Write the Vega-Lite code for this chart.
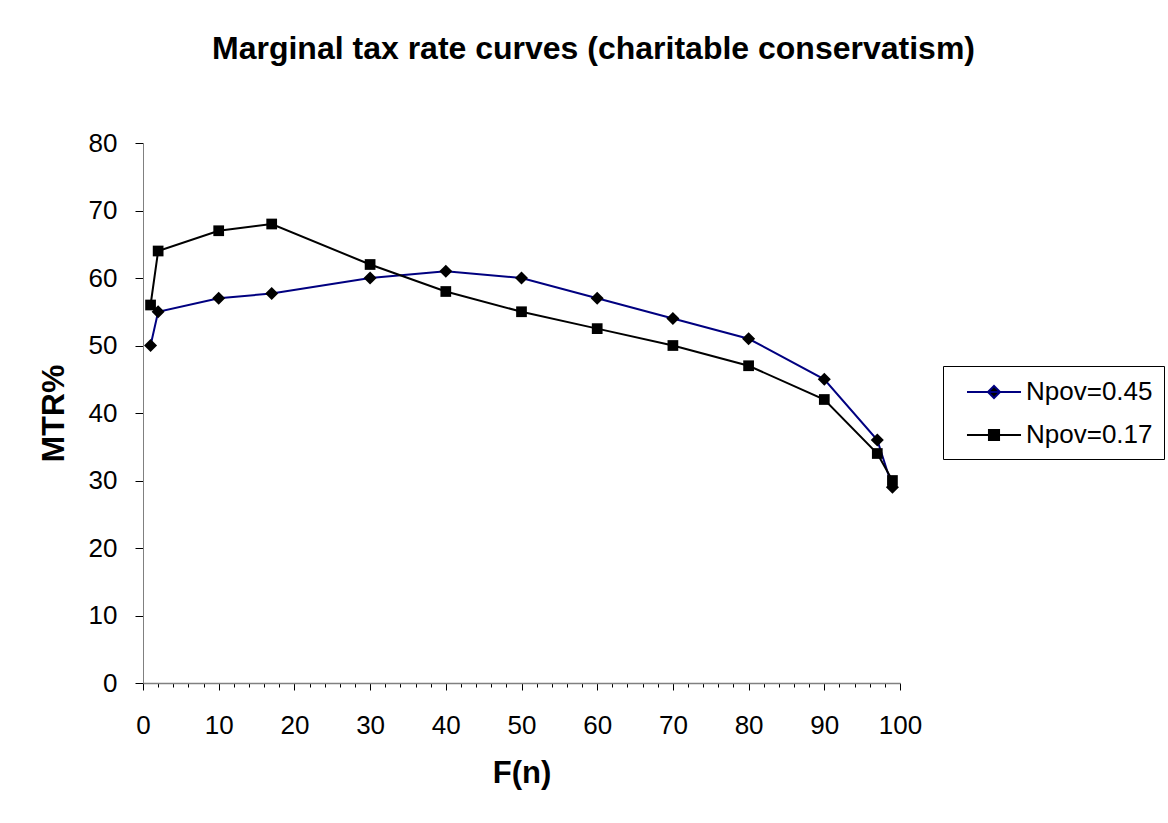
{
  "$schema": "https://vega.github.io/schema/vega-lite/v6.json",
  "width": 757,
  "height": 540,
  "autosize": {"type": "none"},
  "padding": {"left": 143, "top": 143, "right": 268, "bottom": 140},
  "background": "white",
  "config": {
    "font": "Liberation Sans",
    "view": {"stroke": null},
    "axis": {"grid": false, "labelFont": "Liberation Sans", "titleFont": "Liberation Sans", "labelColor": "black", "titleColor": "black"}
  },
  "title": {
    "text": "Marginal tax rate curves (charitable conservatism)",
    "font": "Liberation Sans",
    "fontSize": 32,
    "fontWeight": "bold",
    "color": "black",
    "anchor": "middle",
    "frame": "group",
    "dx": 72,
    "baseline": "alphabetic",
    "offset": 39
  },
  "data": {
    "values": [
      {"series": "Npov=0.45", "F": 1, "MTR": 50},
      {"series": "Npov=0.45", "F": 2, "MTR": 55},
      {"series": "Npov=0.45", "F": 10, "MTR": 57},
      {"series": "Npov=0.45", "F": 17, "MTR": 57.7},
      {"series": "Npov=0.45", "F": 30, "MTR": 60},
      {"series": "Npov=0.45", "F": 40, "MTR": 61},
      {"series": "Npov=0.45", "F": 50, "MTR": 60},
      {"series": "Npov=0.45", "F": 60, "MTR": 57},
      {"series": "Npov=0.45", "F": 70, "MTR": 54},
      {"series": "Npov=0.45", "F": 80, "MTR": 51},
      {"series": "Npov=0.45", "F": 90, "MTR": 45},
      {"series": "Npov=0.45", "F": 97, "MTR": 36},
      {"series": "Npov=0.45", "F": 99, "MTR": 29},
      {"series": "Npov=0.17", "F": 1, "MTR": 56},
      {"series": "Npov=0.17", "F": 2, "MTR": 64},
      {"series": "Npov=0.17", "F": 10, "MTR": 67},
      {"series": "Npov=0.17", "F": 17, "MTR": 68},
      {"series": "Npov=0.17", "F": 30, "MTR": 62},
      {"series": "Npov=0.17", "F": 40, "MTR": 58},
      {"series": "Npov=0.17", "F": 50, "MTR": 55},
      {"series": "Npov=0.17", "F": 60, "MTR": 52.5},
      {"series": "Npov=0.17", "F": 70, "MTR": 50},
      {"series": "Npov=0.17", "F": 80, "MTR": 47},
      {"series": "Npov=0.17", "F": 90, "MTR": 42},
      {"series": "Npov=0.17", "F": 97, "MTR": 34},
      {"series": "Npov=0.17", "F": 99, "MTR": 30}
    ]
  },
  "layer": [
    {
      "mark": {"type": "point", "opacity": 0, "strokeWidth": 2},
      "encoding": {
        "x": {
          "field": "F", "type": "quantitative",
          "scale": {"domain": [0, 100], "nice": false, "zero": false},
          "axis": {
            "orient": "bottom",
            "values": [2, 4, 6, 8, 12, 14, 16, 18, 22, 24, 26, 28, 32, 34, 36, 38, 42, 44, 46, 48, 52, 54, 56, 58, 62, 64, 66, 68, 72, 74, 76, 78, 82, 84, 86, 88, 92, 94, 96, 98],
            "labels": false,
            "domain": false,
            "title": "",
            "tickSize": 4,
            "tickColor": "black"
          }
        },
        "y": {"field": "MTR", "type": "quantitative", "scale": {"domain": [0, 80], "nice": false}},
        "shape": {
          "field": "series", "type": "nominal",
          "scale": {
            "domain": ["Npov=0.45", "Npov=0.17"],
            "range": [
              "M-1.93,0H1.93M-0.43,0L0,-0.43L0.43,0L0,0.43Z",
              "M-1.93,0H1.93M-0.36,-0.36H0.36V0.36H-0.36Z"
            ]
          },
          "legend": {
            "title": null,
            "orient": "none",
            "legendX": 800,
            "legendY": 223,
            "strokeColor": "black",
            "fillColor": "white",
            "padding": 11,
            "symbolSize": 784,
            "symbolOffset": 25,
            "symbolStrokeWidth": 2,
            "symbolOpacity": 1,
            "labelFontSize": 26,
            "labelFont": "Liberation Sans",
            "labelColor": "black",
            "labelOffset": 17,
            "rowPadding": 15
          }
        },
        "stroke": {
          "field": "series", "type": "nominal",
          "scale": {"domain": ["Npov=0.45", "Npov=0.17"], "range": ["#000080", "#000000"]}
        },
        "fill": {
          "field": "series", "type": "nominal",
          "scale": {"domain": ["Npov=0.45", "Npov=0.17"], "range": ["#000000", "#000000"]}
        }
      }
    },
    {
      "mark": {"type": "line", "strokeWidth": 2},
      "encoding": {
        "x": {
          "field": "F", "type": "quantitative",
          "axis": {
            "orient": "bottom",
            "values": [0, 10, 20, 30, 40, 50, 60, 70, 80, 90, 100],
            "title": "F(n)",
            "titleFontSize": 31,
            "titleFontWeight": "bold",
            "titleBaseline": "alphabetic",
            "titleY": 99,
            "labelFontSize": 26,
            "labelPadding": 22,
            "labelFlush": false,
            "tickSize": 7,
            "tickColor": "black",
            "domainColor": "#808080",
            "domainWidth": 1.5
          }
        },
        "y": {
          "field": "MTR", "type": "quantitative",
          "axis": {
            "values": [0, 10, 20, 30, 40, 50, 60, 70, 80],
            "title": "MTR%",
            "titleFontSize": 32,
            "titleFontWeight": "bold",
            "titleAngle": -90,
            "titleBaseline": "alphabetic",
            "titleAlign": "center",
            "titleX": -80,
            "titleY": 270,
            "labelFontSize": 26,
            "labelPadding": 18,
            "labelFlush": false,
            "tickSize": 8,
            "tickColor": "black",
            "domainColor": "#808080"
          }
        },
        "color": {
          "field": "series", "type": "nominal",
          "scale": {"domain": ["Npov=0.45", "Npov=0.17"], "range": ["#000080", "#000000"]},
          "legend": null
        },
        "detail": {"field": "series"}
      }
    },
    {
      "mark": {"type": "point", "filled": true, "opacity": 1, "color": "black"},
      "encoding": {
        "x": {"field": "F", "type": "quantitative", "axis": null},
        "y": {"field": "MTR", "type": "quantitative"},
        "shape": {
          "field": "series", "type": "nominal",
          "scale": {"domain": ["Npov=0.45", "Npov=0.17"], "range": ["diamond", "square"]},
          "legend": null
        },
        "size": {
          "field": "series", "type": "nominal",
          "scale": {"domain": ["Npov=0.45", "Npov=0.17"], "range": [170, 115]},
          "legend": null
        }
      }
    }
  ],
  "resolve": {
    "scale": {"shape": "independent", "color": "independent", "size": "independent", "fill": "independent", "stroke": "independent"},
    "axis": {"x": "independent"}
  }
}
